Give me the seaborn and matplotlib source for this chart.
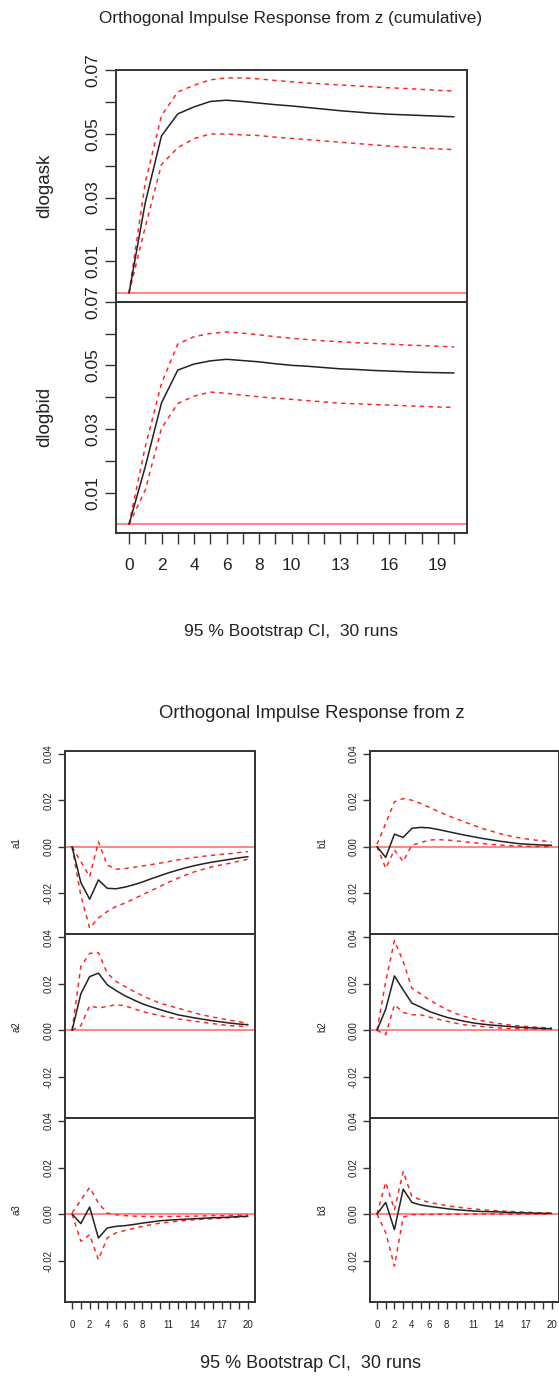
import numpy as np
import pandas as pd
import matplotlib
matplotlib.use("Agg")
import matplotlib.pyplot as plt
import seaborn as sns

# horizon steps
steps = list(range(21))

# cumulative responses from z
dlogask = [0, 0.0284, 0.0494, 0.0563, 0.0585, 0.0602, 0.0606, 0.0602, 0.0597, 0.0592, 0.0588,
           0.0583, 0.0578, 0.0573, 0.0569, 0.0565, 0.0562, 0.0560, 0.0558, 0.0556, 0.0554]
dlogask_up = [0, 0.0347, 0.0558, 0.0632, 0.0653, 0.0670, 0.0676, 0.0676, 0.0673, 0.0668, 0.0664,
              0.0660, 0.0657, 0.0654, 0.0651, 0.0648, 0.0645, 0.0643, 0.0640, 0.0637, 0.0635]
dlogask_lo = [0, 0.0208, 0.0404, 0.0457, 0.0485, 0.0500, 0.0500, 0.0497, 0.0495, 0.0490, 0.0486,
              0.0482, 0.0478, 0.0474, 0.0470, 0.0466, 0.0462, 0.0459, 0.0456, 0.0453, 0.0451]

dlogbid = [0, 0.0181, 0.0382, 0.0485, 0.0504, 0.0514, 0.0519, 0.0515, 0.0511, 0.0505, 0.0500,
           0.0497, 0.0493, 0.0489, 0.0487, 0.0484, 0.0482, 0.0480, 0.0478, 0.0477, 0.0476]
dlogbid_up = [0, 0.0244, 0.0443, 0.0567, 0.0590, 0.0600, 0.0605, 0.0601, 0.0596, 0.0590, 0.0585,
              0.0581, 0.0577, 0.0574, 0.0571, 0.0569, 0.0567, 0.0564, 0.0562, 0.0560, 0.0558]
dlogbid_lo = [0, 0.0108, 0.0302, 0.0380, 0.0403, 0.0416, 0.0412, 0.0406, 0.0401, 0.0397, 0.0393,
              0.0389, 0.0385, 0.0381, 0.0379, 0.0377, 0.0375, 0.0373, 0.0371, 0.0369, 0.0368]

# non-cumulative responses from z
a1 = [0, -0.0154, -0.0226, -0.0143, -0.0179, -0.0181, -0.0174, -0.0164, -0.0152, -0.0138, -0.0125,
      -0.0112, -0.0101, -0.0090, -0.0081, -0.0073, -0.0066, -0.0060, -0.0054, -0.0048, -0.0043]
a1_up = [0, -0.0064, -0.0129, 0.0021, -0.0079, -0.0097, -0.0094, -0.0089, -0.0083, -0.0077, -0.0071,
         -0.0064, -0.0057, -0.0051, -0.0046, -0.0041, -0.0037, -0.0033, -0.0030, -0.0025, -0.0021]
a1_lo = [0, -0.0210, -0.0350, -0.0307, -0.0279, -0.0257, -0.0243, -0.0225, -0.0207, -0.0189, -0.0171,
         -0.0153, -0.0136, -0.0121, -0.0107, -0.0096, -0.0086, -0.0078, -0.0071, -0.0062, -0.0054]

a2 = [0, 0.0157, 0.0231, 0.0246, 0.0196, 0.0171, 0.0149, 0.0131, 0.0114, 0.0101, 0.0089,
      0.0078, 0.0067, 0.0060, 0.0053, 0.0047, 0.0041, 0.0036, 0.0031, 0.0027, 0.0024]
a2_up = [0, 0.0274, 0.0331, 0.0334, 0.0246, 0.0210, 0.0189, 0.0168, 0.0149, 0.0132, 0.0117,
         0.0106, 0.0096, 0.0085, 0.0074, 0.0065, 0.0057, 0.0050, 0.0043, 0.0037, 0.0031]
a2_lo = [0, 0.0020, 0.0106, 0.0096, 0.0103, 0.0110, 0.0106, 0.0093, 0.0081, 0.0072, 0.0063,
         0.0056, 0.0049, 0.0044, 0.0039, 0.0034, 0.0029, 0.0024, 0.0020, 0.0018, 0.0017]

a3 = [0, -0.0041, 0.0030, -0.0103, -0.0060, -0.0053, -0.0050, -0.0045, -0.0039, -0.0034, -0.0029,
      -0.0026, -0.0024, -0.0022, -0.0020, -0.0018, -0.0016, -0.0015, -0.0013, -0.0011, -0.0009]
a3_up = [0.0005, 0.0060, 0.0114, 0.0047, 0.0004, -0.0003, -0.0007, -0.0009, -0.0010, -0.0011, -0.0011,
         -0.0011, -0.0010, -0.0010, -0.0009, -0.0008, -0.0007, -0.0007, -0.0006, -0.0005, -0.0004]
a3_lo = [0, -0.0117, -0.0089, -0.0196, -0.0103, -0.0081, -0.0071, -0.0062, -0.0053, -0.0046, -0.0039,
         -0.0035, -0.0031, -0.0027, -0.0024, -0.0022, -0.0020, -0.0018, -0.0016, -0.0013, -0.0011]

b1 = [0, -0.0046, 0.0054, 0.0040, 0.0079, 0.0083, 0.0081, 0.0074, 0.0066, 0.0058, 0.0050,
      0.0043, 0.0036, 0.0030, 0.0024, 0.0019, 0.0014, 0.0011, 0.0009, 0.0007, 0.0006]
b1_up = [0.0010, 0.0100, 0.0193, 0.0207, 0.0200, 0.0186, 0.0169, 0.0152, 0.0136, 0.0121, 0.0107,
         0.0093, 0.0079, 0.0068, 0.0057, 0.0048, 0.0040, 0.0034, 0.0029, 0.0025, 0.0021]
b1_lo = [0, -0.0093, -0.0014, -0.0064, 0.0007, 0.0017, 0.0029, 0.0030, 0.0029, 0.0025, 0.0021,
         0.0017, 0.0014, 0.0010, 0.0007, 0.0005, 0.0004, 0.0002, 0.0001, 0.0000, 0.0000]

b2 = [0, 0.0091, 0.0234, 0.0174, 0.0117, 0.0100, 0.0081, 0.0068, 0.0056, 0.0047, 0.0039,
      0.0032, 0.0027, 0.0023, 0.0020, 0.0017, 0.0014, 0.0012, 0.0010, 0.0008, 0.0007]
b2_up = [0, 0.0210, 0.0386, 0.0296, 0.0181, 0.0157, 0.0131, 0.0109, 0.0089, 0.0073, 0.0060,
         0.0050, 0.0041, 0.0035, 0.0029, 0.0024, 0.0020, 0.0017, 0.0014, 0.0012, 0.0011]
b2_lo = [0, -0.0019, 0.0110, 0.0077, 0.0067, 0.0067, 0.0057, 0.0048, 0.0039, 0.0031, 0.0024,
         0.0020, 0.0017, 0.0013, 0.0010, 0.0008, 0.0007, 0.0006, 0.0006, 0.0005, 0.0004]

b3 = [0, 0.0050, -0.0067, 0.0107, 0.0050, 0.0039, 0.0033, 0.0028, 0.0023, 0.0019, 0.0016,
      0.0013, 0.0011, 0.0010, 0.0009, 0.0007, 0.0006, 0.0005, 0.0004, 0.0003, 0.0003]
b3_up = [0, 0.0136, 0.0019, 0.0183, 0.0076, 0.0061, 0.0050, 0.0043, 0.0036, 0.0031, 0.0026,
         0.0022, 0.0019, 0.0016, 0.0014, 0.0012, 0.0010, 0.0008, 0.0007, 0.0005, 0.0004]
b3_lo = [0, -0.0080, -0.0224, -0.0013, -0.0003, -0.0002, -0.0002, -0.0001, -0.0001, -0.0001, -0.0001,
         0, 0, 0, 0, 0, 0, 0, 0, 0, 0]

top_xticklabels = [0, 2, 4, 6, 8, 10, 13, 16, 19]
bot_xticklabels = [0, 2, 4, 6, 8, 11, 14, 17, 20]
top_yticks = [0.01, 0.02, 0.03, 0.04, 0.05, 0.06, 0.07]
top_yticklabels = ["0.01", "", "0.03", "", "0.05", "", "0.07"]
bot_yticks = [-0.02, 0.0, 0.02, 0.04]
bot_yticklabels = ["-0.02", "0.00", "0.02", "0.04"]

sns.set_theme(style="white")
plt.rcParams['font.family'] = ['Liberation Sans', 'DejaVu Sans']

W, H = 559, 1377
fig = plt.figure(figsize=(W / 100, H / 100), dpi=100)
fig.patch.set_facecolor("white")


def panel(left, top, right, bottom):
    return fig.add_axes([left / W, 1 - bottom / H, (right - left) / W, (bottom - top) / H])


def draw_irf(ax, irf, up, lo, ylim, fs, ticklen):
    df = pd.DataFrame({"step": steps, "irf": irf, "upper": up, "lower": lo})
    ax.axhline(0, color="#ff5a5a", lw=1.3, alpha=0.8, zorder=1)
    sns.lineplot(data=df, x="step", y="irf", ax=ax, color="#222222", lw=1.1, zorder=3)
    for col in ["upper", "lower"]:
        sns.lineplot(data=df, x="step", y=col, ax=ax, color="#ff2020", lw=1.05,
                     dashes=False, zorder=2).lines[-1].set_dashes((3, 3))
    ax.set_xlim(-0.8, 20.8)
    ax.set_ylim(*ylim)
    ax.set_xlabel("")
    ax.set_ylabel("")
    ax.set_facecolor("white")
    for s in ax.spines.values():
        s.set_color("#333333")
        s.set_linewidth(1.4)
    ax.tick_params(axis="both", direction="out", length=ticklen, width=1.0,
                   color="#333333", labelsize=fs, labelcolor="#222222",
                   left=True, bottom=False)


# ---------- cumulative figure ----------
top_panels = [("dlogask", dlogask, dlogask_up, dlogask_lo, 70.3, 301.7),
              ("dlogbid", dlogbid, dlogbid_up, dlogbid_lo, 301.7, 533.0)]
for i, (name, irf, up, lo, t, b) in enumerate(top_panels):
    ax = panel(116, t, 467, b)
    draw_irf(ax, irf, up, lo, (-0.0027, 0.07), 12.5, 8)
    ax.set_yticks(top_yticks)
    ax.set_yticklabels(top_yticklabels, rotation=90, va="center")
    ax.tick_params(axis="y", pad=3)
    if i == len(top_panels) - 1:
        ax.set_xticks(steps)
        ax.set_xticklabels([str(s) if s in top_xticklabels else "" for s in steps])
        ax.tick_params(axis="x", bottom=True, length=8, pad=10, labelsize=12.5)
    else:
        ax.set_xticks([])
    fig.text(45 / W, 1 - (t + b) / 2 / H, name, rotation=90, ha="center", va="center",
             fontsize=13.5, color="#222222")

fig.text(291 / W, 1 - 18 / H, "Orthogonal Impulse Response from z (cumulative)",
         ha="center", va="center", fontsize=12.3, color="#222222")
fig.text(291 / W, 1 - 632 / H, "95 % Bootstrap CI,  30 runs",
         ha="center", va="center", fontsize=12.5, color="#222222")

# ---------- non-cumulative figure ----------
rows = [(750.7, 934.3), (934.3, 1118.0), (1118.0, 1301.7)]
cols = [(65, 255, 17, [("a1", a1, a1_up, a1_lo), ("a2", a2, a2_up, a2_lo), ("a3", a3, a3_up, a3_lo)]),
        (370, 558.5, 322, [("b1", b1, b1_up, b1_lo), ("b2", b2, b2_up, b2_lo), ("b3", b3, b3_up, b3_lo)])]
for left, right, lab_x, series in cols:
    for j, (name, irf, up, lo) in enumerate(series):
        t, b = rows[j]
        ax = panel(left, t, right, b)
        draw_irf(ax, irf, up, lo, (-0.0377, 0.0413), 7, 5)
        ax.set_yticks(bot_yticks)
        ax.set_yticklabels(bot_yticklabels, rotation=90, va="center")
        ax.tick_params(axis="y", pad=3)
        if j == len(series) - 1:
            ax.set_xticks(steps)
            ax.set_xticklabels([str(s) if s in bot_xticklabels else "" for s in steps])
            ax.tick_params(axis="x", bottom=True, length=5, pad=8, labelsize=7)
        else:
            ax.set_xticks([])
        fig.text(lab_x / W, 1 - (t + b) / 2 / H, name, rotation=90, ha="center", va="center",
                 fontsize=7, color="#222222")

fig.text(312 / W, 1 - 713 / H, "Orthogonal Impulse Response from z",
         ha="center", va="center", fontsize=13.3, color="#222222")
fig.text(310 / W, 1 - 1364 / H, "95 % Bootstrap CI,  30 runs",
         ha="center", va="center", fontsize=13, color="#222222")

fig.savefig("out.png", dpi=100, facecolor="white")
